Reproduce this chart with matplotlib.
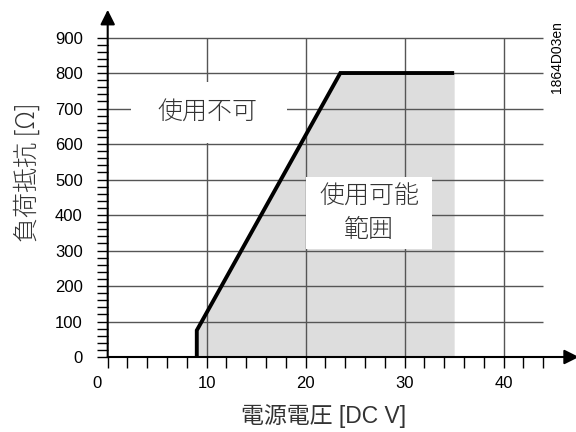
import matplotlib
matplotlib.use('Agg')
import matplotlib.pyplot as plt
import matplotlib.transforms as mtransforms
from matplotlib.patches import Rectangle
import numpy as np

plt.rcParams['font.family'] = ['Liberation Sans', 'Noto Sans CJK JP', 'DejaVu Sans']

# operating limit curve
volts = [9.0, 9.0, 23.5, 35.0]
ohms = [0, 75, 800, 800]

x_major = [0, 10, 20, 30, 40]
y_major = [0, 100, 200, 300, 400, 500, 600, 700, 800, 900]

cjk = dict(family=['Noto Sans CJK JP'], weight='light', color='#333333')

fig = plt.figure(figsize=(5.76, 4.32), dpi=100)
ax = fig.add_axes([107.7 / 576, 75 / 432, 470.2 / 576, 346.1 / 432])
ax.set_xlim(0, 47.5)
ax.set_ylim(0, 975)
for s in ax.spines.values():
    s.set_visible(False)

# usable area
ax.fill_between(volts, ohms, 0, color='#dddddd', lw=0, zorder=1)

# grid
ax.hlines(y_major[1:], 0, 44, color='#555555', lw=1, zorder=2)
ax.vlines(x_major[1:], 0, 900, color='#555555', lw=1, zorder=2)

# label boxes
ax.add_patch(Rectangle((2.4, 603), 15.7, 172, facecolor='white', lw=0, zorder=3))
ax.add_patch(Rectangle((20.0, 304), 12.8, 203, facecolor='white', lw=0, zorder=3))
ax.text(10.1, 690, '使用不可', fontsize=18, ha='center', va='center', zorder=4, **cjk)
ax.text(26.4, 405, '使用可能\n範囲', fontsize=18, ha='center', va='center',
        linespacing=1.3, zorder=4, **cjk)

ax.plot(volts, ohms, color='black', lw=2.8, solid_joinstyle='miter',
        solid_capstyle='butt', zorder=5)

# axes with arrows
ax.annotate('', xy=(47.6, 0), xytext=(0, 0), annotation_clip=False,
            arrowprops=dict(arrowstyle='-|>', color='black', lw=1.5,
                            mutation_scale=22, shrinkA=0, shrinkB=0), zorder=6)
ax.annotate('', xy=(0, 978), xytext=(0, 0), annotation_clip=False,
            arrowprops=dict(arrowstyle='-|>', color='black', lw=1.5,
                            mutation_scale=22, shrinkA=0, shrinkB=0), zorder=6)

ax.set_xticks(x_major)
ax.set_xticks(np.arange(0, 45, 2), minor=True)
ax.set_yticks(y_major)
ax.set_yticks(np.arange(0, 901, 20), minor=True)
ax.tick_params(which='both', direction='out', length=8, width=1, labelsize=12)
ax.tick_params(axis='y', pad=10)
ax.tick_params(axis='x', pad=6)

# the "0" on the x axis sits left of its tick
fig.canvas.draw()
lbl0 = ax.get_xticklabels()[0]
lbl0.set_transform(lbl0.get_transform() +
                   mtransforms.ScaledTranslation(-11 / 100, 0, fig.dpi_scale_trans))

fig.text(27 / 576, 1 - 172 / 432, '負荷抵抗 [Ω]', rotation=90, fontsize=18,
         ha='center', va='center', **cjk)
fig.text(324 / 576, 1 - 416 / 432, '電源電圧 [DC V]', fontsize=16.5,
         ha='center', va='center', color='#333333')
fig.text(557 / 576, 1 - 57 / 432, '1864D03en', rotation=90, fontsize=10,
         ha='center', va='center')

fig.savefig('out.png', dpi=100)
